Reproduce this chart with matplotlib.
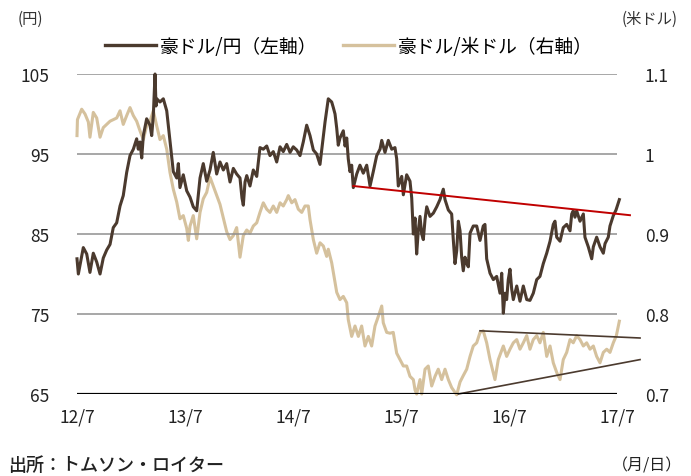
import matplotlib
matplotlib.use("Agg")
import matplotlib.pyplot as plt
from matplotlib.lines import Line2D

plt.rcParams['font.family'] = ['Noto Sans CJK JP', 'DejaVu Sans']

# time axis: months elapsed since July 2012
tick_months = [0, 12, 24, 36, 48, 60]
tick_labels = ["12/7", "13/7", "14/7", "15/7", "16/7", "17/7"]
left_ticks = [65, 75, 85, 95, 105]
right_ticks = [0.7, 0.8, 0.9, 1.0, 1.1]
right_labels = ["0.7", "0.8", "0.9", "1", "1.1"]

audjpy_months = [0.0, 0.15, 0.7, 1.08, 1.44, 1.81, 2.19, 2.56, 2.92, 3.3, 3.67, 4.03, 4.41, 4.78,
                 5.14, 5.52, 5.89, 6.26, 6.63, 6.81, 7.0, 7.19, 7.37, 7.74, 8.11, 8.3, 8.48, 8.67,
                 8.78, 8.86, 9.22, 9.59, 9.97, 10.14, 10.33, 10.52, 10.7, 11.08, 11.26, 11.44,
                 11.81, 12.19, 12.56, 12.92, 13.3, 13.67, 14.03, 14.41, 14.78, 15.14, 15.52,
                 15.89, 16.26, 16.63, 17.0, 17.37, 17.74, 18.11, 18.33, 18.48, 18.67, 18.86,
                 19.22, 19.59, 19.97, 20.33, 20.7, 21.08, 21.44, 21.81, 22.19, 22.56, 22.92,
                 23.3, 23.67, 24.03, 24.41, 24.78, 25.14, 25.52, 25.89, 26.26, 26.63, 27.0,
                 27.19, 27.56, 27.92, 28.3, 28.48, 28.67, 28.86, 29.03, 29.22, 29.59, 29.78,
                 29.97, 30.14, 30.33, 30.52, 30.7, 31.08, 31.44, 31.81, 32.19, 32.56, 32.92,
                 33.3, 33.67, 33.86, 34.22, 34.59, 34.97, 35.33, 35.52, 35.7, 36.08, 36.26,
                 36.63, 37.0, 37.19, 37.37, 37.56, 37.74, 37.92, 38.11, 38.3, 38.48, 38.67,
                 38.86, 39.22, 39.59, 39.97, 40.33, 40.7, 40.89, 41.26, 41.63, 41.81, 42.0,
                 42.19, 42.37, 42.56, 42.74, 42.92, 43.11, 43.3, 43.48, 43.67, 44.03, 44.41,
                 44.78, 45.14, 45.33, 45.52, 45.89, 46.26, 46.63, 47.0, 47.19, 47.37, 47.56,
                 47.74, 47.92, 48.11, 48.3, 48.48, 48.86, 49.22, 49.59, 49.97, 50.33, 50.7,
                 51.08, 51.44, 51.81, 52.19, 52.56, 52.92, 53.11, 53.3, 53.67, 54.03, 54.41,
                 54.78, 54.97, 55.14, 55.33, 55.52, 55.89, 56.26, 56.44, 56.81, 57.19, 57.37,
                 57.74, 58.11, 58.48, 58.67, 59.03, 59.22, 59.59, 59.89, 60.26]
audjpy = [81.9, 80.0, 83.3, 82.5, 80.2, 82.6, 81.5, 80.0, 82.0, 83.0, 83.7, 85.8, 86.4, 88.5,
          89.8, 92.7, 94.8, 95.6, 96.9, 95.6, 96.5, 94.5, 97.3, 99.4, 98.6, 97.3, 99.8, 105.0,
          101.0, 101.9, 101.5, 101.9, 100.4, 98.6, 96.5, 94.5, 92.8, 92.0, 93.8, 90.8,
          92.4, 90.4, 89.6, 88.4, 87.9, 92.0, 93.8, 91.6, 93.0, 95.2, 92.5,
          94.0, 93.0, 93.8, 91.5, 93.2, 92.5, 92.0, 89.5, 88.6, 91.5, 92.3,
          91.0, 93.0, 92.2, 95.8, 95.6, 96.0, 94.8, 95.3, 94.0, 95.9, 95.3,
          96.2, 95.2, 95.9, 95.5, 94.8, 96.5, 98.6, 97.3, 95.5, 95.0, 93.7,
          95.5, 99.0, 101.9, 101.5, 100.8, 100.0, 98.2, 96.1, 97.0, 97.9, 96.0,
          97.0, 94.4, 92.8, 93.6, 90.8, 92.5, 93.6, 92.6, 93.6, 91.0, 92.8,
          94.8, 95.6, 96.7, 95.2, 96.7, 95.6, 95.8, 94.4, 91.0, 92.2, 89.9,
          92.4, 91.6, 89.5, 85.0, 87.0, 82.5, 85.4, 87.2, 85.0, 84.3, 86.8,
          88.4, 87.2, 87.6, 88.4, 89.3, 90.6, 89.3, 88.0, 87.5, 84.3, 81.3,
          82.9, 86.6, 85.4, 82.1, 80.4, 82.1, 81.3, 80.9, 85.1, 86.0, 86.0,
          84.2, 86.0, 86.2, 81.9, 80.1, 79.3, 79.7, 77.6, 80.1, 75.1, 77.6,
          76.8, 79.3, 80.6, 78.1, 76.8, 78.5, 76.6, 78.5, 76.8, 76.7, 77.6,
          79.3, 79.7, 81.3, 82.6, 84.1, 86.2, 86.6, 84.6, 84.1, 85.8, 86.2,
          85.4, 87.5, 87.9, 87.1, 87.9, 86.6, 87.5, 84.6, 83.4, 81.9, 83.4,
          84.6, 83.4, 82.6, 83.8, 84.6, 86.0, 87.3, 88.0, 89.3]

audusd_months = [0.0, 0.05, 0.52, 0.89, 1.26, 1.44, 1.81, 2.19, 2.56, 2.92, 3.3, 3.67, 4.03,
                 4.41, 4.78, 5.14, 5.52, 5.89, 6.26, 6.63, 7.0, 7.37, 7.74, 8.11, 8.48, 8.86,
                 9.22, 9.59, 9.97, 10.33, 10.7, 11.08, 11.44, 11.81, 12.19, 12.37, 12.56, 12.92,
                 13.3, 13.48, 13.67, 14.03, 14.41, 14.78, 15.14, 15.52, 15.89, 16.26, 16.63,
                 17.0, 17.37, 17.74, 18.11, 18.48, 18.86, 19.22, 19.59, 19.97, 20.33, 20.7,
                 21.08, 21.44, 21.81, 22.19, 22.56, 22.92, 23.3, 23.48, 23.86, 24.22, 24.59,
                 24.97, 25.33, 25.7, 25.89, 26.26, 26.63, 27.0, 27.37, 27.74, 27.92, 28.3,
                 28.48, 28.86, 29.22, 29.59, 29.97, 30.14, 30.52, 30.89, 31.26, 31.63, 32.0,
                 32.37, 32.74, 33.11, 33.48, 33.86, 34.03, 34.41, 34.78, 35.14, 35.52, 35.89,
                 36.26, 36.63, 37.0, 37.37, 37.56, 37.74, 38.11, 38.3, 38.67, 39.03, 39.41,
                 39.78, 40.14, 40.52, 40.89, 41.26, 41.63, 42.0, 42.19, 42.56, 42.92, 43.3,
                 43.67, 44.03, 44.41, 44.78, 45.14, 45.52, 45.89, 46.44, 46.81, 47.37, 47.74,
                 48.11, 48.48, 48.86, 49.22, 49.59, 49.97, 50.33, 50.7, 51.08, 51.44, 51.81,
                 52.19, 52.56, 52.92, 53.3, 53.67, 54.03, 54.41, 54.78, 55.14, 55.52, 55.89,
                 56.26, 56.63, 57.0, 57.37, 57.74, 58.11, 58.48, 58.86, 59.22, 59.59, 59.93,
                 60.26]
audusd = [1.023, 1.043, 1.056, 1.050, 1.040, 1.021, 1.052, 1.045, 1.021, 1.033, 1.037, 1.041, 1.043,
          1.045, 1.054, 1.037, 1.048, 1.058, 1.048, 1.041, 1.029, 1.018, 1.035, 1.041, 1.054, 1.035,
          1.018, 1.023, 1.006, 0.977, 0.956, 0.940, 0.919, 0.923, 0.907, 0.892, 0.910, 0.923,
          0.894, 0.910, 0.927, 0.944, 0.952, 0.971, 0.960, 0.948, 0.937, 0.920, 0.903,
          0.893, 0.898, 0.908, 0.871, 0.898, 0.905, 0.901, 0.910, 0.914, 0.927, 0.939,
          0.931, 0.927, 0.935, 0.927, 0.939, 0.935, 0.943, 0.948, 0.939, 0.943, 0.931,
          0.927, 0.935, 0.935, 0.918, 0.893, 0.876, 0.889, 0.885, 0.872, 0.881, 0.864,
          0.852, 0.827, 0.818, 0.822, 0.814, 0.793, 0.772, 0.785, 0.772, 0.785, 0.760,
          0.772, 0.760, 0.785, 0.797, 0.810, 0.789, 0.777, 0.776, 0.777, 0.751, 0.743,
          0.735, 0.735, 0.722, 0.718, 0.705, 0.700, 0.718, 0.700, 0.731, 0.735, 0.710,
          0.722, 0.731, 0.718, 0.731, 0.718, 0.708, 0.702, 0.699, 0.715, 0.723, 0.731,
          0.747, 0.760, 0.764, 0.777, 0.779, 0.764, 0.743, 0.718, 0.743, 0.760, 0.747,
          0.756, 0.764, 0.768, 0.756, 0.764, 0.773, 0.756, 0.768, 0.773, 0.764, 0.777,
          0.747, 0.760, 0.739, 0.727, 0.718, 0.743, 0.752, 0.768, 0.764, 0.773, 0.768,
          0.760, 0.764, 0.756, 0.760, 0.747, 0.739, 0.752, 0.756, 0.752, 0.764, 0.773,
          0.791]

# trend lines (start/end in months, values)
red_trend_m = [30.7, 61.44]
red_trend_v = [91.0, 87.35]
upper_trend_m = [44.78, 62.56]
upper_trend_v = [0.779, 0.770]
lower_trend_m = [42.37, 62.56]
lower_trend_v = [0.700, 0.743]

DARK = "#4b3a2e"
TAN = "#d5c19d"
RED = "#c00000"
GRID = "#8f8f8f"

fig = plt.figure(figsize=(6.91, 4.77), dpi=100)
ax = fig.add_axes([77/691, 1-395/477, 540/691, 320/477])
ax2 = ax.twinx()

ax.set_xlim(0, 60)
ax.set_ylim(65, 105)
ax2.set_ylim(0.7, 1.1)

for s in list(ax.spines.values()) + list(ax2.spines.values()):
    s.set_visible(False)

for v in left_ticks[1:]:
    ax.axhline(v, color=GRID, lw=1.1, zorder=0)
ax.axhline(65, color="black", lw=2.3, zorder=1)

ax.set_yticks(left_ticks)
ax.set_yticklabels([str(v) for v in left_ticks])
ax2.set_yticks(right_ticks)
ax2.set_yticklabels(right_labels)
ax.set_xticks(tick_months)
ax.set_xticklabels(tick_labels)
ax.tick_params(axis='y', length=0, pad=20, labelsize=12.5, colors="#222222")
ax.tick_params(axis='x', length=0, pad=10, labelsize=12.5, colors="#222222")
ax2.tick_params(axis='y', length=0, pad=20, labelsize=12.5, colors="#222222")

ax2.plot(audusd_months, audusd, color=TAN, lw=2.2, zorder=2, clip_on=False)
ax2.plot(upper_trend_m, upper_trend_v, color=DARK, lw=1.2, zorder=3, clip_on=False)
ax2.plot(lower_trend_m, lower_trend_v, color=DARK, lw=1.2, zorder=3, clip_on=False)
ax.set_zorder(ax2.get_zorder() + 1)
ax.patch.set_visible(False)
ax.plot(audjpy_months, audjpy, color=DARK, lw=2.2, zorder=4, clip_on=False)
ax.plot(red_trend_m, red_trend_v, color=RED, lw=1.4, zorder=5, clip_on=False)

handles = [Line2D([], [], color=DARK, lw=2.4), Line2D([], [], color=TAN, lw=2.4)]
fig.legend(handles, ["豪ドル/円（左軸）", "豪ドル/米ドル（右軸）"], loc="center",
           bbox_to_anchor=(0.505, 1-47/477), ncol=2, frameon=False, fontsize=13.5,
           handlelength=2.7, handletextpad=0.2, columnspacing=1.4)

fig.text(30/691, 1-19/477, "(円)", ha="center", va="center", fontsize=11, color="#333333")
fig.text(650/691, 1-19/477, "(米ドル)", ha="center", va="center", fontsize=11, color="#333333")
fig.text(8/691, 1-466/477, "出所：トムソン・ロイター", ha="left", va="center", fontsize=13,
         color="#222222", fontweight="medium")
fig.text(682/691, 1-466/477, "（月/日）", ha="right", va="center", fontsize=11.5, color="#222222")

fig.savefig("out.png", dpi=100)
